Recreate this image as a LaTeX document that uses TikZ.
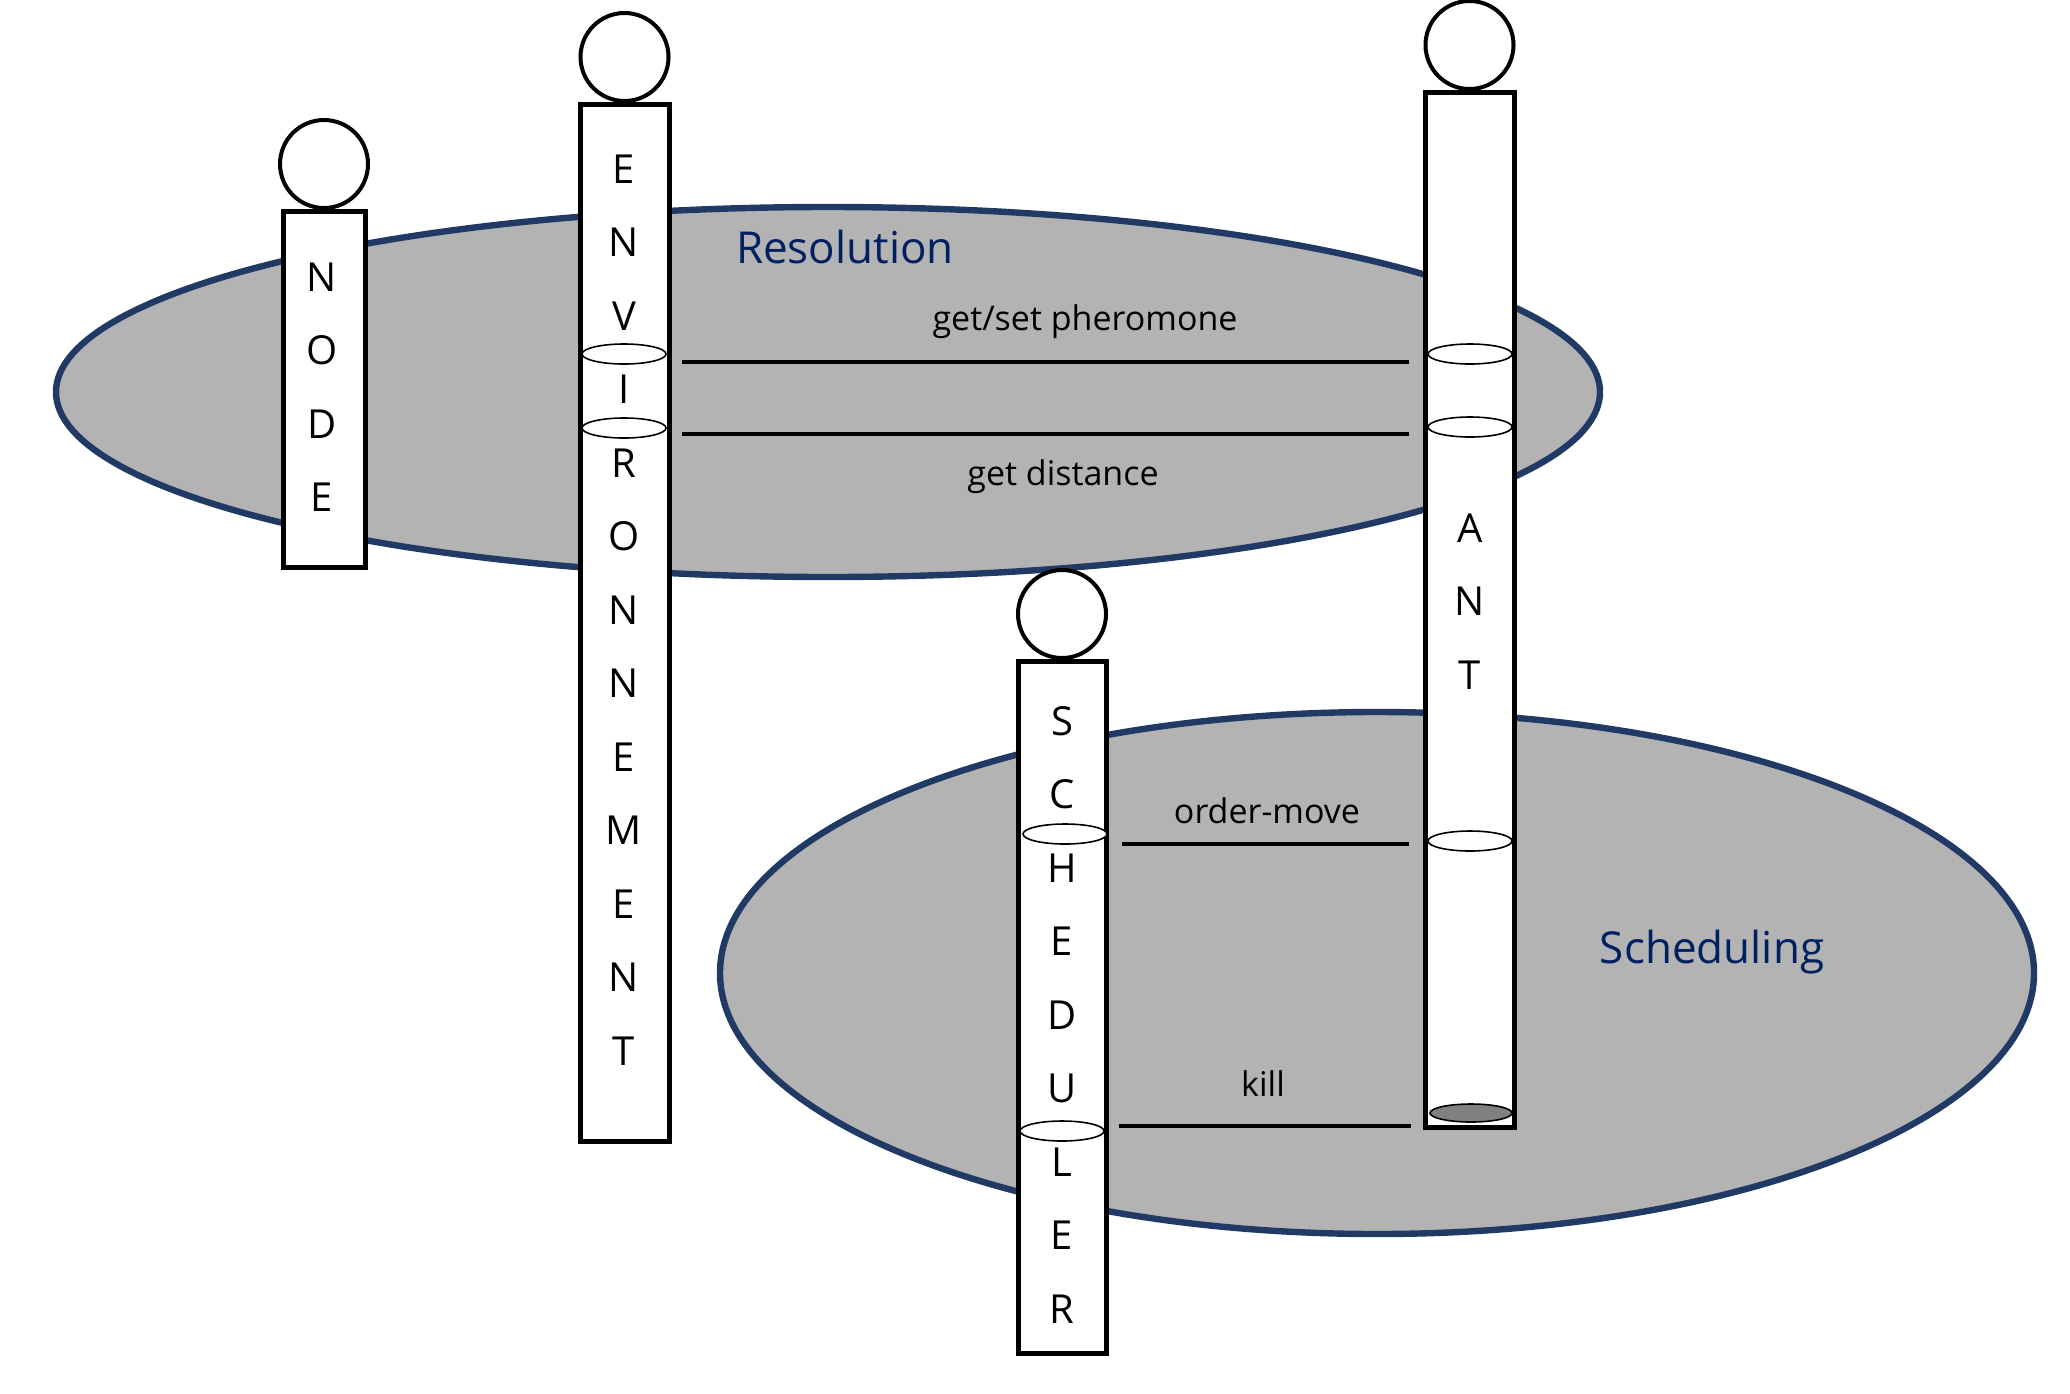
\documentclass[tikz,border=0pt]{standalone}
\usepackage{fontspec}
\setmainfont{Open Sans}
\usepackage{xcolor}
\usepackage{tikz}
\usetikzlibrary{positioning}
\usetikzlibrary{shapes.geometric}
\usetikzlibrary{calc}
\definecolor{zonefill}{RGB}{179,179,179}
\definecolor{zoneline}{RGB}{33,57,101}
\definecolor{zonetext}{RGB}{0,32,96}
\tikzstyle{zone}=[ellipse,draw=zoneline,fill=zonefill,line width=3.2pt,inner sep=0pt,outer sep=0pt]
\tikzstyle{agent}=[rectangle,draw=black,fill=white,line width=2.5pt,inner sep=0pt,outer sep=0pt]
\tikzstyle{head}=[circle,draw=black,fill=white,line width=2pt,inner sep=0pt,outer sep=0pt,minimum size=44pt]
\tikzstyle{letter}=[font=\fontsize{20}{20}\selectfont]
\tikzstyle{ring}=[ellipse,draw=black,fill=white,line width=0.8pt,inner sep=0pt,minimum width=42pt,minimum height=10pt]
\tikzstyle{msg}=[line width=2pt]
\tikzstyle{weight}=[font=\fontsize{17}{17}\selectfont]
\tikzset{zonetitle/.style={text=zonetext,font=\fontsize{22}{22}\selectfont}}

\begin{document}
\begin{tikzpicture}[x=0.5pt,y=-0.5pt]

  \useasboundingbox (0,0) rectangle (2070,1393);

  % the two zones
  \node[zone, minimum width=772pt, minimum height=185pt] (resolution) at (828,392) {};
  \node[zone, minimum width=657pt, minimum height=261pt] (scheduling) at (1377,973) {};

  % agents
  \node[agent, minimum width=41pt, minimum height=178pt] (node) at (324,389) {};
  \node[agent, minimum width=44.5pt, minimum height=518.5pt] (env) at (624.5,622.5) {};
  \node[agent, minimum width=44.5pt, minimum height=517.5pt] (ant) at (1469.5,609.5) {};
  \node[agent, minimum width=44pt, minimum height=346pt] (sched) at (1062,1007) {};

  \foreach \name in {node, env, ant, sched}
         \node[head, above=1.5pt of \name] (\name-head) {};

  \def\u{73.5};

  \foreach \i/\l in {0/N, 1/O, 2/D, 3/E}
         \node[letter] (node-\i) at (322, 277+\i*\u) {\l};
  \foreach \i/\l in {0/E, 1/N, 2/V, 3/I, 4/R, 5/O, 6/N, 7/N, 8/E, 9/M, 10/E, 11/N, 12/T}
         \node[letter] (env-\i) at (624, 169+\i*\u) {\l};
  \foreach \i/\l in {0/A, 1/N, 2/T}
         \node[letter] (ant-\i) at (1470, 528+\i*\u) {\l};
  \foreach \i/\l in {0/S, 1/C, 2/H, 3/E, 4/D, 5/U, 6/L, 7/E, 8/R}
         \node[letter] (sched-\i) at (1062, 721+\i*\u) {\l};

  % message rings
  \foreach \x/\y/\name in {624/354/er1, 624/428/er2, 1470/354/ar1, 1470/427/ar2, 1470/841/ar3, 1065/834/sr1, 1062/1131/sr2}
         \node[ring] (\name) at (\x,\y) {};
  \node[ring, fill=black!50, minimum width=41pt, minimum height=9pt] (ark) at (1471,1113) {};

  % messages
  \foreach \source/\dest/\s/\gap in {er1/ar1/-4pt/7.5pt, er2/ar2/-3.5pt/7.5pt, sr1/ar3/-1.5pt/7pt, sr2/ark/-6.5pt/7pt}
  {
         \coordinate (\dest-end) at ([yshift=\s]\dest.west);
         \draw[msg, shorten <=\gap, shorten >=9pt] (\source.east |- \dest-end) -- (\dest-end);
  }

  \node[weight] (pheromone) at (1085,322) {get/set pheromone};
  \node[weight] (distance) at (1063,477) {get distance};
  \node[weight] (move) at (1267,811) {order-move};
  \node[weight] (kill) at (1263,1084) {kill};

  \node[zonetitle] (resolution-title) at (845,247) {Resolution};
  \node[zonetitle] (scheduling-title) at (1712,952) {Scheduling};

\end{tikzpicture}
\end{document}
